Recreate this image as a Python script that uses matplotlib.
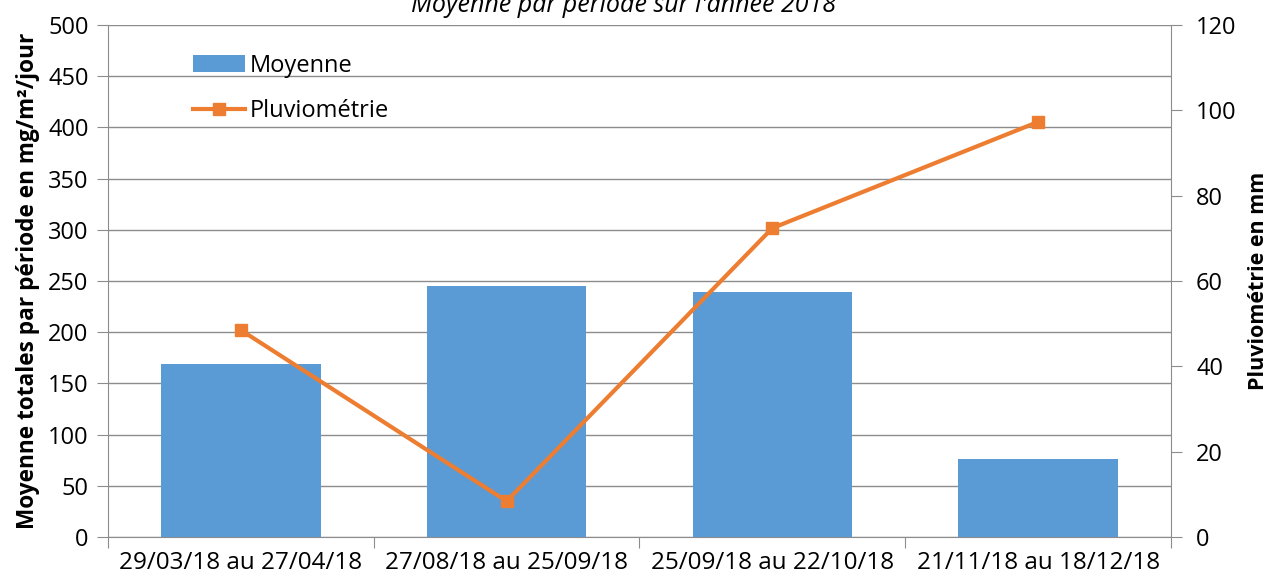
import numpy as np
import matplotlib.pyplot as plt

# periods on the x axis
periodes = ['29/03/18 au 27/04/18', '27/08/18 au 25/09/18',
            '25/09/18 au 22/10/18', '21/11/18 au 18/12/18']
moyenne = [169, 245, 239, 76]        # mg/m²/jour
pluvio = [48.5, 8.4, 72.4, 97.3]     # mm

plt.rcParams['font.family'] = ['Open Sans', 'DejaVu Sans']

fig = plt.figure(figsize=(12.72, 5.83), dpi=100)
ax = fig.add_axes([0.0849, 0.0789, 0.8357, 0.8782])
ax2 = ax.twinx()

x = np.arange(len(periodes))
bars = ax.bar(x, moyenne, width=0.6, color='#5B9BD5', zorder=3, label='Moyenne')
line, = ax2.plot(x, pluvio, color='#ED7D31', lw=3, marker='s', ms=9,
                 label='Pluviométrie', zorder=4)

ax.set_xlim(-0.5, len(periodes) - 0.5)
ax.set_ylim(0, 500)
ax.set_yticks(np.arange(0, 501, 50))
ax2.set_ylim(0, 120)
ax2.set_yticks(np.arange(0, 121, 20))

ax.grid(axis='y', color='#8c8c8c', lw=1, zorder=0)
ax.set_axisbelow(True)

# category ticks at boundaries, labels centered
ax.set_xticks(np.arange(-0.5, len(periodes), 1.0))
ax.set_xticklabels([])
ax.set_xticks(x, minor=True)
ax.set_xticklabels(periodes, minor=True, fontsize=17.5)
ax.tick_params(axis='x', which='minor', length=0, pad=10)
ax.tick_params(axis='x', which='major', length=8, color='#8c8c8c')

for a in (ax, ax2):
    for s in a.spines.values():
        s.set_visible(False)
ax.spines['left'].set_visible(True)
ax.spines['left'].set_color('#8c8c8c')
ax.spines['bottom'].set_visible(True)
ax.spines['bottom'].set_color('#8c8c8c')
ax2.spines['right'].set_visible(True)
ax2.spines['right'].set_color('#8c8c8c')

ax.tick_params(axis='y', labelsize=17, length=8, color='#8c8c8c', pad=6)
ax2.tick_params(axis='y', labelsize=17, length=8, color='#8c8c8c', pad=10)

ax.set_ylabel('Moyenne totales par période en mg/m²/jour', fontsize=16.3,
              fontweight='bold', labelpad=6)
ax2.set_ylabel('Pluviométrie en mm', fontsize=15.5, fontweight='bold', labelpad=8)

fig.text(0.49, 0.99, "Moyenne par période sur l'année 2018", ha='center',
         va='center', fontsize=18, style='italic')

ax.legend([bars, line], ['Moyenne', 'Pluviométrie'], loc='upper left',
          bbox_to_anchor=(0.06, 0.985), frameon=False, fontsize=17,
          handlelength=2.2, handletextpad=0.2, labelspacing=0.9)

fig.savefig('out.png', dpi=100)
